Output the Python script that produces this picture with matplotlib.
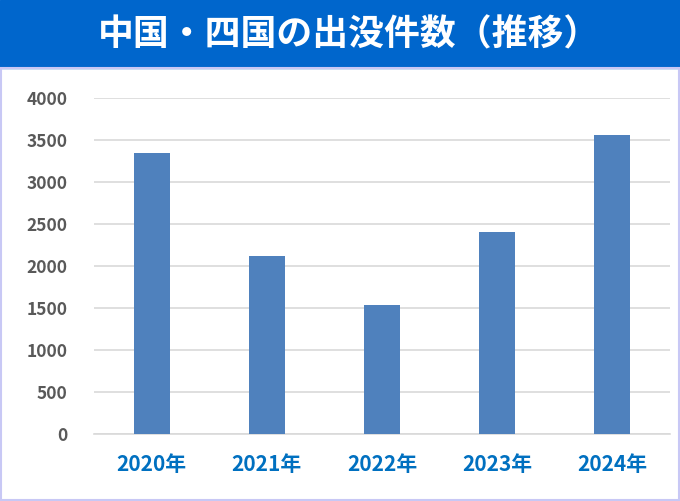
import matplotlib
matplotlib.use("Agg")
import matplotlib.pyplot as plt
from matplotlib.patches import Rectangle

plt.rcParams['font.family'] = ['Noto Sans CJK JP', 'DejaVu Sans']

title = '中国・四国の出没件数（推移）'
years = ['2020年', '2021年', '2022年', '2023年', '2024年']
counts = [3350, 2120, 1540, 2410, 3560]
y_ticks = [0, 500, 1000, 1500, 2000, 2500, 3000, 3500, 4000]

W, H = 680, 501
fig = plt.figure(figsize=(W / 100, H / 100), dpi=100)

# title band
band_h = 68
fig.patches.append(Rectangle((0, 1 - band_h / H), 1, band_h / H,
                             transform=fig.transFigure, color='#0066CC', zorder=0))
fig.text(349 / W, 1 - 35 / H, title, color='white', fontsize=25.8, fontweight='bold',
         ha='center', va='center')

# light frame below the band
fig.patches.append(Rectangle((1 / W, 1 / H), (W - 2) / W, (H - band_h - 1) / H,
                             transform=fig.transFigure, fill=False,
                             edgecolor='#C8C8F5', linewidth=1.5, zorder=0))

left, right, top, bottom = 94, 670, 98.3, 434.3
ax = fig.add_axes([left / W, (H - bottom) / H, (right - left) / W, (bottom - top) / H])

x = range(len(years))
ax.bar(x, counts, width=0.3125, color='#4F81BD', zorder=3)

ax.set_xlim(-0.5, len(years) - 0.5)
ax.set_ylim(0, 4000)
ax.set_yticks(y_ticks)
ax.set_yticklabels([str(v) for v in y_ticks], fontsize=12.5, fontweight='bold',
                   color='#595959')
ax.set_xticks(list(x))
ax.set_xticklabels(years, fontsize=15, fontweight='bold', color='#0070C0')

ax.grid(axis='y', color='#D9D9D9', linewidth=1.2, zorder=0)
for s in ['top', 'right', 'left']:
    ax.spines[s].set_visible(False)
ax.spines['bottom'].set_color('#D9D9D9')
ax.spines['bottom'].set_linewidth(1.2)
ax.tick_params(axis='both', length=0)
ax.tick_params(axis='y', pad=19)
ax.tick_params(axis='x', pad=14)

fig.savefig('out.png', dpi=100)
